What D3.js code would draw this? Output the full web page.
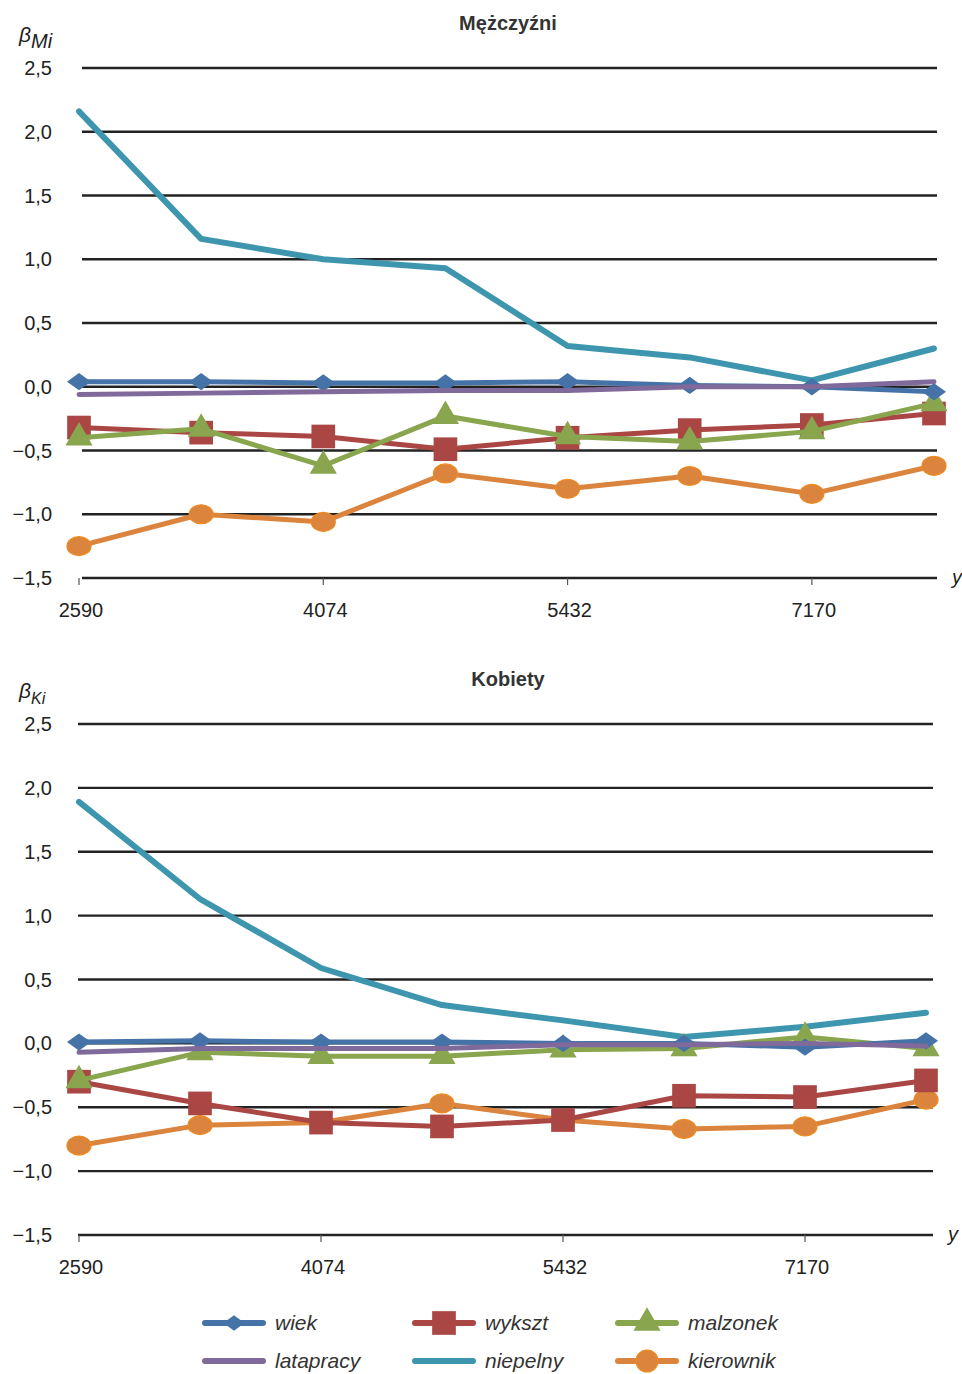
<!DOCTYPE html>
<html>
<head>
<meta charset="utf-8">
<script src="https://cdn.jsdelivr.net/npm/d3@7"></script>
<style>
  body { margin: 0; background: #fff; }
  svg { font-family: "Liberation Sans", Arial, sans-serif; }
</style>
</head>
<body>
<div id="chart"></div>
<script>
// x categories (only every second one is labelled in the original)
const xIndex = [0, 1, 2, 3, 4, 5, 6, 7];
const xTickLabels = ["2590", "", "4074", "", "5432", "", "7170", ""];
const yTicks = [2.5, 2.0, 1.5, 1.0, 0.5, 0.0, -0.5, -1.0, -1.5];

const seriesNames = ["wiek", "wykszt", "malzonek", "latapracy", "niepelny", "kierownik"];

// Mężczyźni
const menWiek      = [0.04, 0.04, 0.03, 0.03, 0.04, 0.01, 0.00, -0.04];
const menWykszt    = [-0.32, -0.36, -0.39, -0.49, -0.40, -0.34, -0.30, -0.21];
const menMalzonek  = [-0.40, -0.33, -0.62, -0.23, -0.39, -0.43, -0.35, -0.13];
const menLatapracy = [-0.06, -0.05, -0.04, -0.03, -0.03, 0.00, 0.00, 0.04];
const menNiepelny  = [2.16, 1.16, 1.00, 0.93, 0.32, 0.23, 0.05, 0.30];
const menKierownik = [-1.25, -1.00, -1.06, -0.68, -0.80, -0.70, -0.84, -0.62];

// Kobiety
const womenWiek      = [0.01, 0.02, 0.01, 0.01, 0.00, 0.00, -0.03, 0.02];
const womenWykszt    = [-0.30, -0.47, -0.62, -0.65, -0.60, -0.41, -0.42, -0.29];
const womenMalzonek  = [-0.29, -0.07, -0.10, -0.10, -0.05, -0.04, 0.05, -0.04];
const womenLatapracy = [-0.07, -0.04, -0.04, -0.04, -0.01, -0.01, 0.00, -0.02];
const womenNiepelny  = [1.89, 1.13, 0.59, 0.30, 0.18, 0.05, 0.13, 0.24];
const womenKierownik = [-0.80, -0.64, -0.62, -0.47, -0.60, -0.67, -0.65, -0.44];

const colors = {
  wiek: "#4572A7", wykszt: "#AA4643", malzonek: "#89A54E",
  latapracy: "#80699B", niepelny: "#3D96AE", kierownik: "#DB843D"
};

// flat diamond like the Excel marker (wider than tall)
const flatDiamond = {
  draw(ctx, size) {
    const w = Math.sqrt(size) * 0.75, h = w * 0.72;
    ctx.moveTo(0, -h); ctx.lineTo(w, 0); ctx.lineTo(0, h); ctx.lineTo(-w, 0); ctx.closePath();
  }
};
const markers = {
  wiek: flatDiamond, wykszt: d3.symbolSquare, malzonek: d3.symbolTriangle,
  latapracy: null, niepelny: null, kierownik: "ellipse"
};
const markerSize = { wiek: 256, wykszt: 560, malzonek: 320 };
const lineWidth = { wiek: 5, wykszt: 5, malzonek: 5, latapracy: 5, niepelny: 6, kierownik: 5 };
// drawing order (bottom to top)
const drawOrder = ["niepelny", "kierownik", "wykszt", "malzonek", "wiek", "latapracy"];

const width = 962, height = 1374;
const svg = d3.select("#chart").append("svg")
  .attr("width", width).attr("height", height);

function panel(opts) {
  const data = opts.data;
  const x = d3.scalePoint().domain(xIndex).range([opts.x0, opts.x1]);
  const y = d3.scaleLinear().domain([-1.5, 2.5]).range([opts.yBottom, opts.yTop]);

  const g = svg.append("g");

  // gridlines
  g.selectAll(".grid").data(yTicks).enter().append("line")
    .attr("x1", opts.gx0).attr("x2", opts.gx1)
    .attr("y1", d => y(d)).attr("y2", d => y(d))
    .attr("stroke", "#222").attr("stroke-width", 2.4);

  // y axis labels
  g.selectAll(".ylab").data(yTicks).enter().append("text")
    .attr("x", 52).attr("y", d => y(d) + 7)
    .attr("text-anchor", "end")
    .attr("font-size", 20).attr("fill", "#222")
    .text(d => (d < 0 ? "\u2212" : "") + d3.format(".1f")(Math.abs(d)).replace(".", ","));

  // x ticks + labels
  const labelled = xIndex.filter(i => xTickLabels[i] !== "");
  g.selectAll(".xt").data(labelled).enter().append("line")
    .attr("x1", d => x(d)).attr("x2", d => x(d))
    .attr("y1", opts.yBottom).attr("y2", opts.yBottom + 7)
    .attr("stroke", "#555").attr("stroke-width", 1.2);
  g.selectAll(".xl").data(labelled).enter().append("text")
    .attr("x", d => x(d) + 2).attr("y", opts.yBottom + 39)
    .attr("text-anchor", "middle")
    .attr("font-size", 20).attr("fill", "#222")
    .text(d => xTickLabels[d]);

  // axis names
  const yl = g.append("text").attr("x", 19).attr("y", opts.yTop - 26)
    .attr("font-size", 21).attr("font-style", "italic").attr("fill", "#222");
  yl.append("tspan").text("\u03B2");
  yl.append("tspan").attr("dy", 6).attr("font-size", opts.subSize).text(opts.sub);
  g.append("text").attr("x", opts.gx1 + 15).attr("y", opts.yBottom + 6)
    .attr("font-size", 20).attr("font-style", "italic").attr("fill", "#222").text("y");

  // title
  g.append("text").attr("x", opts.titleX).attr("y", opts.yTop - 38)
    .attr("text-anchor", "middle").attr("font-size", 20).attr("font-weight", "bold")
    .attr("fill", "#333").text(opts.title);

  const line = d3.line().x((d, i) => x(i)).y(d => y(d));

  drawOrder.forEach(name => {
    const vals = data[name];
    g.append("path").datum(vals)
      .attr("d", line).attr("fill", "none")
      .attr("stroke", colors[name]).attr("stroke-width", lineWidth[name])
      .attr("stroke-linejoin", "round").attr("stroke-linecap", "round");
    const m = markers[name];
    if (m === "ellipse") {
      g.selectAll(null).data(vals).enter().append("ellipse")
        .attr("cx", (d, i) => x(i)).attr("cy", d => y(d))
        .attr("rx", 12).attr("ry", 9.5)
        .attr("fill", colors[name]).attr("stroke", "#F08A1E").attr("stroke-width", 1.2);
    } else if (m) {
      g.selectAll(null).data(vals).enter().append("path")
        .attr("d", d3.symbol().type(m).size(markerSize[name]))
        .attr("transform", (d, i) => `translate(${x(i)},${y(d)})`)
        .attr("fill", colors[name]);
    }
  });
}

panel({
  title: "Mężczyźni", titleX: 508, sub: "Mi", subSize: 20,
  data: { wiek: menWiek, wykszt: menWykszt, malzonek: menMalzonek,
          latapracy: menLatapracy, niepelny: menNiepelny, kierownik: menKierownik },
  x0: 79, x1: 934, gx0: 82, gx1: 937, yTop: 68, yBottom: 578
});

panel({
  title: "Kobiety", titleX: 508, sub: "Ki", subSize: 16,
  data: { wiek: womenWiek, wykszt: womenWykszt, malzonek: womenMalzonek,
          latapracy: womenLatapracy, niepelny: womenNiepelny, kierownik: womenKierownik },
  x0: 79, x1: 926, gx0: 78, gx1: 933, yTop: 724, yBottom: 1235
});

// legend
const legendItems = [
  { name: "wiek", x: 205, y: 1323 }, { name: "wykszt", x: 415, y: 1323 }, { name: "malzonek", x: 618, y: 1323 },
  { name: "latapracy", x: 205, y: 1361 }, { name: "niepelny", x: 415, y: 1361 }, { name: "kierownik", x: 618, y: 1361 }
];
const lg = svg.append("g");
legendItems.forEach(it => {
  const name = it.name;
  lg.append("line").attr("x1", it.x).attr("x2", it.x + 58)
    .attr("y1", it.y).attr("y2", it.y)
    .attr("stroke", colors[name]).attr("stroke-width", 6).attr("stroke-linecap", "round");
  const cx = it.x + 29;
  const m = markers[name];
  if (m === "ellipse") {
    lg.append("ellipse").attr("cx", cx).attr("cy", it.y).attr("rx", 11).attr("ry", 11)
      .attr("fill", colors[name]).attr("stroke", "#F08A1E").attr("stroke-width", 1.2);
  } else if (m) {
    const s = m === flatDiamond ? 200 : markerSize[name];
    lg.append("path").attr("d", d3.symbol().type(m).size(s))
      .attr("transform", `translate(${cx},${it.y})`).attr("fill", colors[name]);
  }
  lg.append("text").attr("x", it.x + 70).attr("y", it.y + 7)
    .attr("font-size", 21).attr("font-style", "italic").attr("fill", "#333").text(name);
});
</script>
</body>
</html>
